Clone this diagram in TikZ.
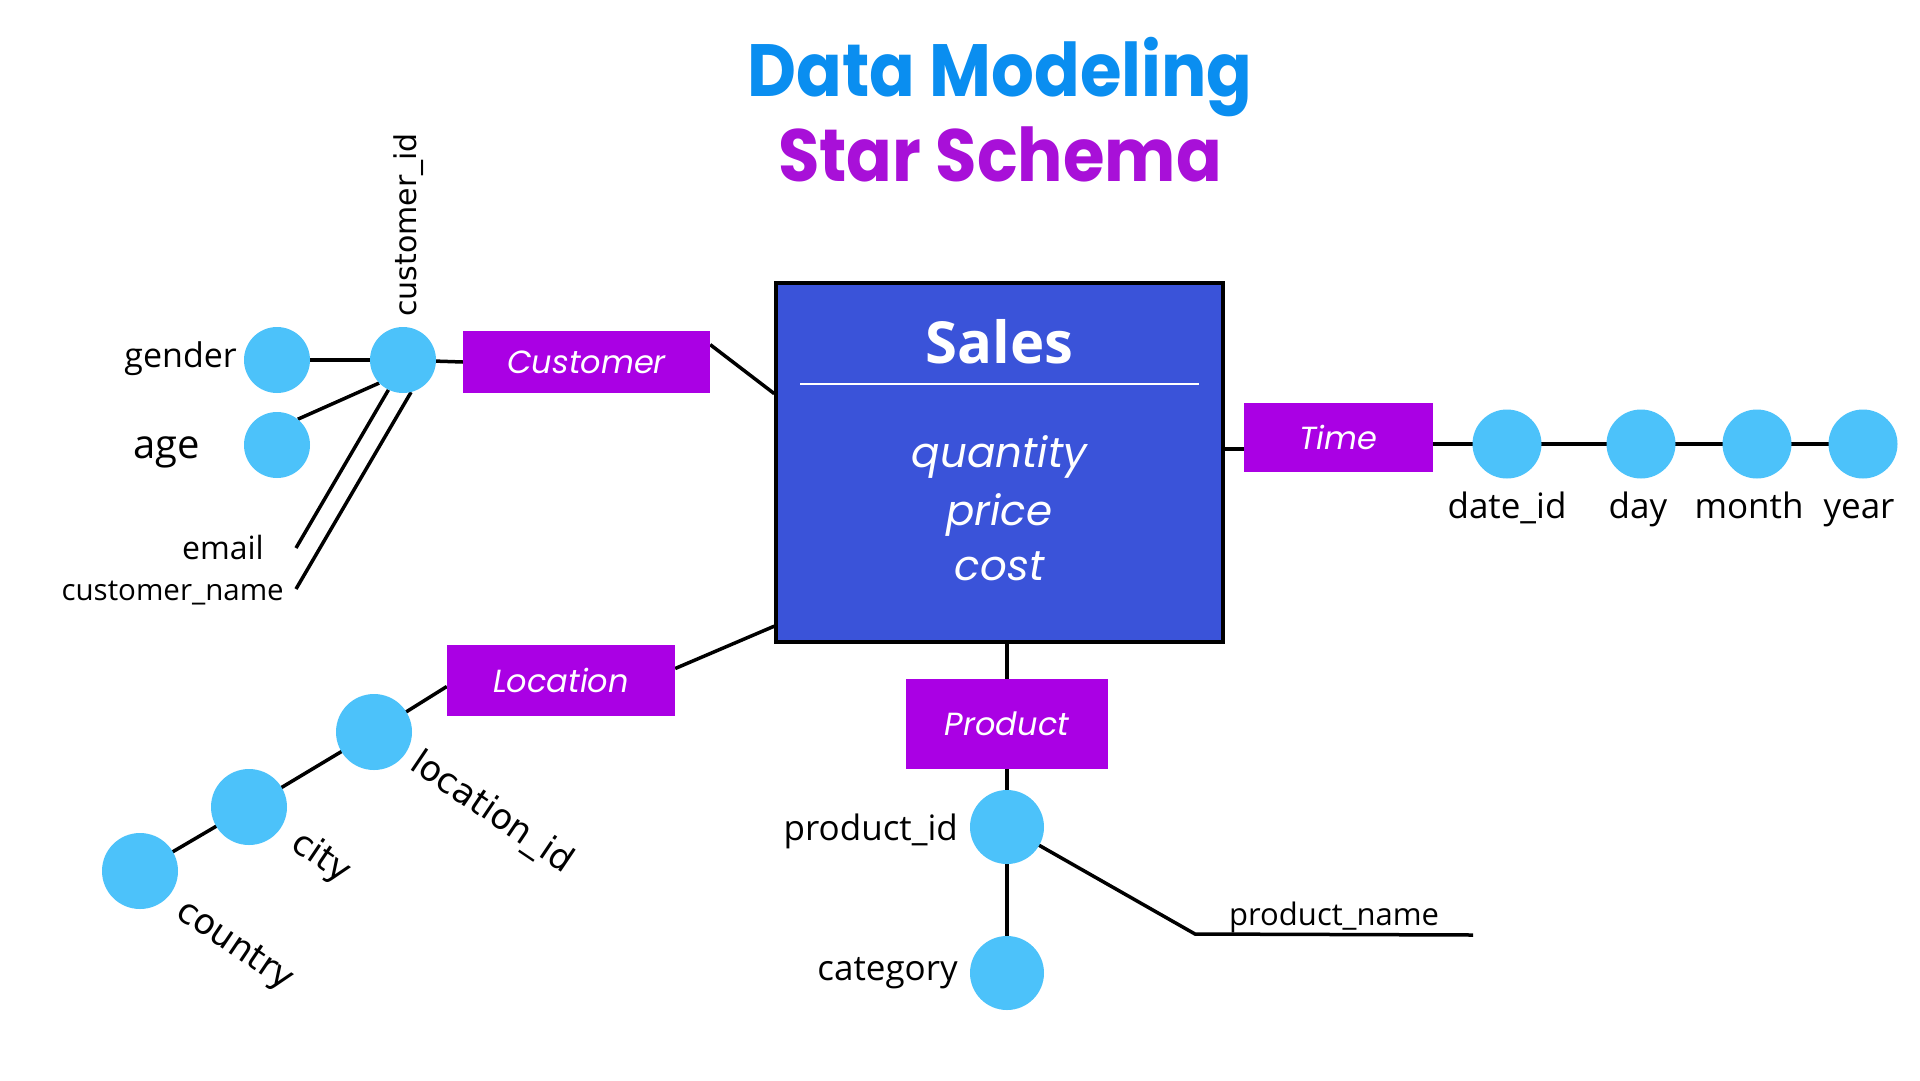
\documentclass[tikz,border=0pt]{standalone}
\usepackage{fontspec}
\setmainfont{Open Sans}
\newfontfamily\dvs{DejaVu Sans}
\newfontfamily\pop{Poppins}
\usetikzlibrary{backgrounds}
\definecolor{titleblue}{RGB}{10,142,240}
\definecolor{titlepurple}{RGB}{168,16,216}
\definecolor{salesblue}{RGB}{58,83,217}
\definecolor{boxpurple}{RGB}{170,0,228}
\definecolor{attrblue}{RGB}{76,194,250}
\begin{document}
\begin{tikzpicture}[x=1pt,y=-1pt,
  attr/.style={circle,fill=attrblue,inner sep=0pt,minimum size=#1},
  dimbox/.style={rectangle,fill=boxpurple,inner sep=0pt,text=white,font=\pop\itshape\fontsize{32}{38}\selectfont},
  conn/.style={line width=3.5pt,black},
  lbl/.style={inner sep=0pt,font=\fontsize{35}{42}\selectfont},
  rlbl/.style={inner sep=0pt,font=\dvs\fontsize{32}{38}\selectfont},
  meas/.style={inner sep=0pt,text=white,font=\pop\itshape\fontsize{42}{48}\selectfont},
  ttl/.style={inner sep=0pt,anchor=base,xscale=0.91,font=\pop\bfseries\fontsize{74}{80}\selectfont},
]
\useasboundingbox (0,0) rectangle (1920,1080);

% titles
\node[ttl,text=titleblue] (t1) at (1000,96) {Data Modeling};
\node[ttl,text=titlepurple] (t2) at (1000,181) {Star Schema};

% fact table
\node[rectangle,draw=black,line width=3.5pt,fill=salesblue,minimum width=447pt,minimum height=359pt] (sales) at (999.5,462.5) {};
\node[inner sep=0pt,anchor=base,text=white,font=\bfseries\fontsize{58}{64}\selectfont] (stitle) at (999.5,363) {Sales};
\draw[white,line width=2.5pt] (800,384) -- (1199,384);
\node[meas,anchor=base] (m1) at (999.5,467) {quantity};
\node[meas,anchor=base] (m2) at (999.5,525) {price};
\node[meas,anchor=base] (m3) at (999.5,580) {cost};

% dimension boxes
\node[dimbox,minimum width=247pt,minimum height=62pt] (cust) at (586.5,362) {Customer};
\node[dimbox,minimum width=189pt,minimum height=69pt] (time) at (1338.5,437.5) {Time};
\node[dimbox,minimum width=228pt,minimum height=71pt] (loc) at (561,680.5) {Location};
\node[dimbox,minimum width=202pt,minimum height=90pt] (prod) at (1007,724) {Product};

% customer attributes
\node[attr=66pt] (gender) at (277,360) {};
\node[attr=66pt] (cid) at (403,360) {};
\node[attr=66pt] (age) at (277,445) {};
\node[lbl,anchor=base east,font=\fontsize{34}{40}\selectfont] (lgender) at (237,367) {gender};
\node[lbl,anchor=base east,font=\fontsize{40}{46}\selectfont] (lage) at (200,458) {age};
\node[lbl,anchor=base east,font=\fontsize{32}{38}\selectfont] (lemail) at (264,559) {email};
\node[lbl,anchor=base east,font=\fontsize{29.5}{34}\selectfont] (lcname) at (284,600) {customer\_name};
\node[rlbl,anchor=base west,rotate=90,font=\dvs\fontsize{30}{36}\selectfont] (lcid) at (416,317) {customer\_id};
\coordinate (emailend) at (296,548);
\coordinate (cnameend) at (296,589);

% time attributes
\node[attr=69pt] (d1) at (1507,444) {};
\node[attr=69pt] (d2) at (1641,444) {};
\node[attr=69pt] (d3) at (1757,444) {};
\node[attr=69pt] (d4) at (1863,444) {};
\node[lbl,anchor=base] (ld1) at (1507,518) {date\_id};
\node[lbl,anchor=base] (ld2) at (1638,518) {day};
\node[lbl,anchor=base] (ld3) at (1749,518) {month};
\node[lbl,anchor=base] (ld4) at (1859,518) {year};

% location attributes
\node[attr=76pt] (lid) at (374,732) {};
\node[attr=76pt] (city) at (249,807) {};
\node[attr=76pt] (country) at (140,871) {};
\node[rlbl,anchor=base west,rotate=-34,font=\dvs\fontsize{35}{40}\selectfont] (llid) at (408,768) {location\_id};
\node[rlbl,anchor=base west,rotate=-34,font=\dvs\fontsize{35}{40}\selectfont] (lcity) at (289,848) {city};
\node[rlbl,anchor=base west,rotate=-34,font=\dvs\fontsize{35}{40}\selectfont] (lcountry) at (174,916) {country};

% product attributes
\node[attr=74pt] (pid) at (1007,827) {};
\node[attr=74pt] (cat) at (1007,973) {};
\node[lbl,anchor=base east] (lpid) at (958,840) {product\_id};
\node[lbl,anchor=base east] (lcat) at (958,980) {category};
\node[lbl,anchor=base west,font=\fontsize{31}{36}\selectfont] (lpname) at (1229,925) {product\_name};
\coordinate (pn1) at (1195,934);
\coordinate (pn2) at (1473,935);

\begin{scope}[on background layer]
  \fill[white] (0,0) rectangle (1920,1080);
  % customer
  \draw[conn] (gender.center) -- (cid.center);
  \draw[conn] (cid.center) -- (cust.west);
  \draw[conn] (age.51) -- (cid.224);
  \draw[conn] (cid.244) -- (emailend);
  \draw[conn] (cid.284) -- (cnameend);
  \draw[conn] (cust.8) -- (sales.163.2);
  % time
  \draw[conn] (time.187.5) -- (time.187.5 -| sales.east);
  \draw[conn] (time.east |- d1.center) -- (d1.center) -- (d2.center) -- (d3.center) -- (d4.center);
  % location
  \draw[conn] (loc.6.3) -- (sales.216.5);
  \draw[conn] (loc.183.8) -- (lid.center) -- (city.center) -- (country.center);
  % product
  \draw[conn] (prod.north) -- (prod.north |- sales.south);
  \draw[conn] (prod.south) -- (pid.center) -- (cat.center);
  \draw[conn] (pid.center) -- (pn1) -- (pn2);
\end{scope}
\end{tikzpicture}
\end{document}
